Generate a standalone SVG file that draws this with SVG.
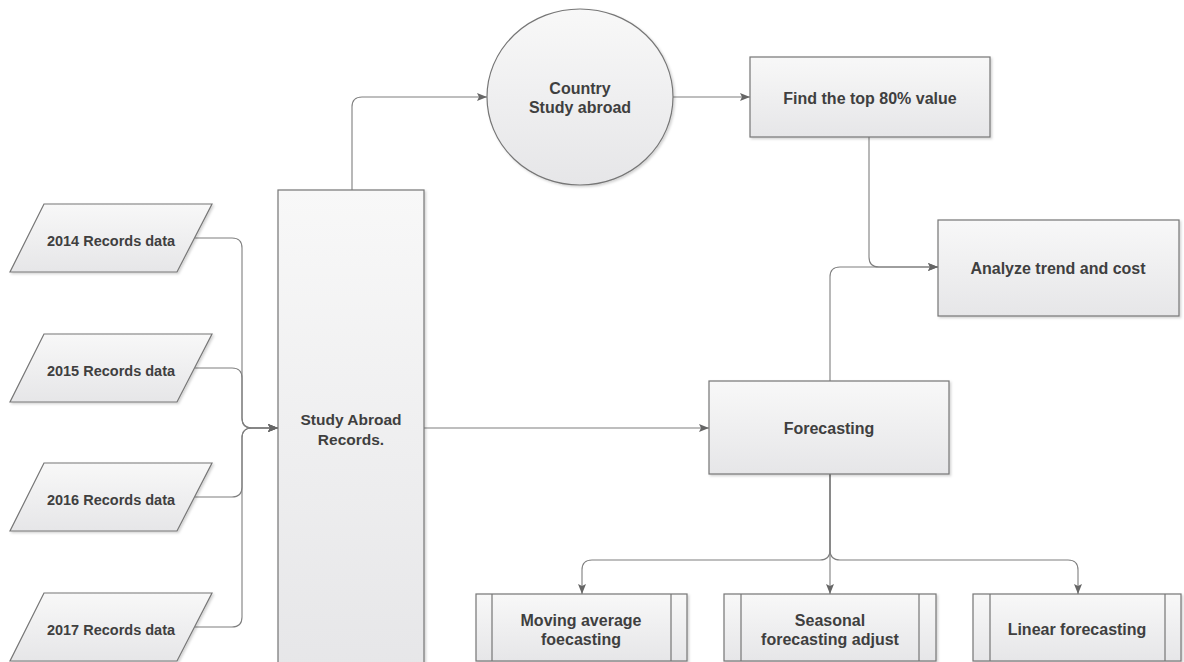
<svg xmlns="http://www.w3.org/2000/svg" width="1184" height="662" viewBox="0 0 1184 662">
<style>
.shape{fill:url(#g);stroke:#767676;stroke-width:1.2;filter:url(#sh)}
.inner{stroke:#767676;stroke-width:1.2;fill:none}
.t{font-family:"Liberation Sans",Arial,sans-serif;font-weight:bold;fill:#3f3f3f;text-anchor:middle;font-size:16px}
.ts{font-size:14.5px}
.tm{font-size:15.5px}
.c{fill:none;stroke:#7f7f7f;stroke-width:1.1}
.a{marker-end:url(#arr)}
</style>
<defs>
<linearGradient id="g" x1="0" y1="0" x2="0" y2="1">
<stop offset="0" stop-color="#f8f8f8"/>
<stop offset="1" stop-color="#e6e6e8"/>
</linearGradient>
<filter id="sh" x="-10%" y="-10%" width="120%" height="120%">
<feDropShadow dx="1.5" dy="1.5" stdDeviation="1" flood-color="#000" flood-opacity="0.18"/>
</filter>
<marker id="arr" viewBox="0 0 10 10" refX="10" refY="5" markerWidth="10" markerHeight="10" markerUnits="userSpaceOnUse" orient="auto">
<path d="M0,1 L10,5 L0,9 L2,5 Z" fill="#666"/>
</marker>
</defs>
<rect width="1184" height="662" fill="#fff"/>
<g id="connectors">
<path class="c a" d="M195,238 H232 Q242,238 242,248 V418 Q242,428 252,428 H278"/>
<path class="c a" d="M195,368 H232 Q242,368 242,378 V418 Q242,428 252,428 H278"/>
<path class="c a" d="M195,497 H232 Q242,497 242,487 V438 Q242,428 252,428 H278"/>
<path class="c a" d="M195,627 H232 Q242,627 242,617 V438 Q242,428 252,428 H278"/>
<path class="c a" d="M352,190 V107 Q352,97 362,97 H487"/>
<path class="c a" d="M673,97 H750"/>
<path class="c a" d="M869,137 V257 Q869,267 879,267 H938"/>
<path class="c a" d="M830,381 V277 Q830,267 840,267 H938"/>
<path class="c a" d="M424,428 H709"/>
<path class="c a" d="M830,474 V594"/>
<path class="c a" d="M830,474 V550 Q830,560 820,560 H592 Q582,560 582,570 V594"/>
<path class="c a" d="M830,474 V550 Q830,560 840,560 H1068 Q1078,560 1078,570 V594"/>
</g>
<g id="rec2014">
<polygon class="shape" points="44,204 212,204 177,272 10,272"/>
<text class="t ts" x="111" y="246">2014 Records data</text>
</g>
<g id="rec2015">
<polygon class="shape" points="44,334 212,334 177,402 10,402"/>
<text class="t ts" x="111" y="376">2015 Records data</text>
</g>
<g id="rec2016">
<polygon class="shape" points="44,463 212,463 177,531 10,531"/>
<text class="t ts" x="111" y="505">2016 Records data</text>
</g>
<g id="rec2017">
<polygon class="shape" points="44,593 212,593 177,661 10,661"/>
<text class="t ts" x="111" y="635">2017 Records data</text>
</g>
<g id="studyRecords">
<rect class="shape" x="278" y="190" width="146" height="490"/>
<text class="t tm" x="351" y="425">Study Abroad</text>
<text class="t tm" x="351" y="445">Records.</text>
</g>
<g id="country">
<ellipse class="shape" cx="580" cy="97" rx="93" ry="88"/>
<text class="t" x="580" y="94">Country</text>
<text class="t" x="580" y="113">Study abroad</text>
</g>
<g id="findTop">
<rect class="shape" x="750" y="57" width="240" height="80"/>
<text class="t" x="870" y="104">Find the top 80% value</text>
</g>
<g id="analyze">
<rect class="shape" x="938" y="220" width="241" height="96"/>
<text class="t" x="1058" y="274">Analyze trend and cost</text>
</g>
<g id="forecasting">
<rect class="shape" x="709" y="381" width="240" height="93"/>
<text class="t" x="829" y="434">Forecasting</text>
</g>
<g id="movingAvg">
<rect class="shape" x="476" y="594" width="211" height="67"/>
<path class="inner" d="M492,594 V661 M671,594 V661"/>
<text class="t" x="581" y="626">Moving average</text>
<text class="t" x="581" y="645">foecasting</text>
</g>
<g id="seasonal">
<rect class="shape" x="724" y="594" width="212" height="67"/>
<path class="inner" d="M741,594 V661 M919,594 V661"/>
<text class="t" x="830" y="626">Seasonal</text>
<text class="t" x="830" y="645">forecasting adjust</text>
</g>
<g id="linear">
<rect class="shape" x="973" y="594" width="208" height="67"/>
<path class="inner" d="M990,594 V661 M1165,594 V661"/>
<text class="t" x="1077" y="635">Linear forecasting</text>
</g>
</svg>
